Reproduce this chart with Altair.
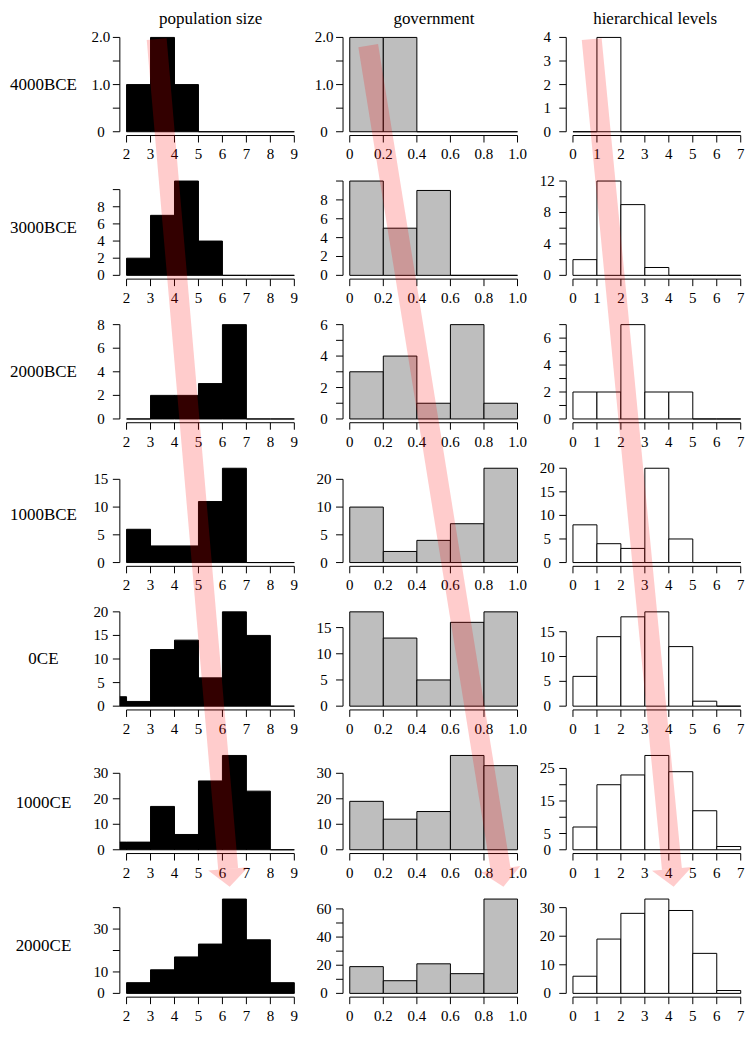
import math
import altair as alt
import pandas as pd

# ---------------- data ----------------
row_names = ["4000BCE", "3000BCE", "2000BCE", "1000BCE", "0CE", "1000CE", "2000CE"]
col_names = ["population size", "government", "hierarchical levels"]

pop_edges = [1, 2, 3, 4, 5, 6, 7, 8, 9]
pop_counts = [
    [None, 1, 2, 1, 0, 0, 0, 0],
    [None, 2, 7, 11, 4, 0, 0, 0],
    [None, 0, 2, 2, 3, 8, 0, 0],
    [None, 6, 3, 3, 11, 17, 0, 0],
    [2, 1, 12, 14, 6, 20, 15, 0],
    [3, 3, 17, 6, 27, 37, 23, 0],
    [None, 5, 11, 17, 23, 44, 25, 5],
]
pop_x_ticks = [2, 3, 4, 5, 6, 7, 8, 9]
pop_x_labels = ["2", "3", "4", "5", "6", "7", "8", "9"]
pop_y_ticks = [[0, 0.5, 1, 1.5, 2], [0, 2, 4, 6, 8, 10], [0, 2, 4, 6, 8], [0, 5, 10, 15],
               [0, 5, 10, 15, 20], [0, 10, 20, 30], [0, 10, 20, 30, 40]]
pop_y_labels = [["0", "", "1.0", "", "2.0"], ["0", "2", "4", "6", "8", ""], ["0", "2", "4", "6", "8"],
                ["0", "5", "10", "15"], ["0", "5", "10", "15", "20"], ["0", "10", "20", "30"],
                ["0", "10", "", "30", ""]]

gov_edges = [0, 0.2, 0.4, 0.6, 0.8, 1.0]
gov_counts = [
    [2, 2, 0, 0, 0],
    [10, 5, 9, 0, 0],
    [3, 4, 1, 6, 1],
    [10, 2, 4, 7, 17],
    [18, 13, 5, 16, 18],
    [19, 12, 15, 37, 33],
    [19, 9, 21, 14, 67],
]
gov_x_ticks = [0, 0.2, 0.4, 0.6, 0.8, 1.0]
gov_x_labels = ["0", "0.2", "0.4", "0.6", "0.8", "1.0"]
gov_y_ticks = [[0, 0.5, 1, 1.5, 2], [0, 2, 4, 6, 8, 10], [0, 1, 2, 3, 4, 5, 6], [0, 5, 10, 15],
               [0, 5, 10, 15], [0, 10, 20, 30], [0, 10, 20, 30, 40, 50, 60]]
gov_y_labels = [["0", "", "1.0", "", "2.0"], ["0", "2", "4", "6", "8", ""], ["0", "", "2", "", "4", "", "6"],
                ["0", "5", "10", "20"], ["0", "5", "10", "15"], ["0", "10", "20", "30"],
                ["0", "", "20", "", "40", "", "60"]]

hier_edges = [0, 1, 2, 3, 4, 5, 6, 7]
hier_counts = [
    [0, 4, 0, 0, 0, 0, 0],
    [2, 12, 9, 1, 0, 0, 0],
    [2, 2, 7, 2, 2, 0, 0],
    [8, 4, 3, 20, 5, 0, 0],
    [6, 14, 18, 19, 12, 1, 0],
    [7, 20, 23, 29, 24, 12, 1],
    [6, 19, 28, 33, 29, 14, 1],
]
hier_x_ticks = [0, 1, 2, 3, 4, 5, 6, 7]
hier_x_labels = ["0", "1", "2", "3", "4", "5", "6", "7"]
hier_y_ticks = [[0, 1, 2, 3, 4], [0, 2, 4, 6, 8, 10, 12], [0, 1, 2, 3, 4, 5, 6, 7], [0, 5, 10, 15, 20],
                [0, 5, 10, 15], [0, 5, 10, 15, 20, 25], [0, 10, 20, 30]]
hier_y_labels = [["0", "1", "2", "3", "4"], ["0", "", "4", "", "8", "", "12"],
                 ["0", "", "2", "", "4", "", "6", ""], ["0", "5", "10", "15", "20"],
                 ["0", "5", "10", "15"], ["0", "5", "", "15", "", "25"], ["0", "10", "20", "30"]]

# arrows (x in data units of each column): start near the top of row 1, tip just above row 7
arrow_x_start = [3.256, 0.110, 0.782]
arrow_x_tip = [6.303, 0.916, 4.20]
arrow_y_start = [5.5, 12.0, 5.5]   # px below the top of the first row
arrow_y_tip = -8.5                 # px relative to the top of the last row

# ---------------- styling / layout ----------------
FONT = "Liberation Serif"
TICK_FS = 15
TEXT_FS = 17
H = 102            # plot height of every panel
PITCH = 143.8      # row pitch
COL_SP = 41.5
ROW_SP = PITCH - H
TICK = 7
PXU = 24.0         # pixels per unit on the 2..9 and 0..7 axes
PXG = 168.0        # pixels per unit on the 0..1 axis
TOP_ANCHOR = -25   # top edge of the figure relative to the first row

columns = [
    dict(edges=pop_edges, counts=pop_counts, xt=pop_x_ticks, xl=pop_x_labels, yt=pop_y_ticks,
         yl=pop_y_labels, x0=1.72, pxu=PXU, width=182, fill="black"),
    dict(edges=gov_edges, counts=gov_counts, xt=gov_x_ticks, xl=gov_x_labels, yt=gov_y_ticks,
         yl=gov_y_labels, x0=-0.04, pxu=PXG, width=182, fill="#BEBEBE"),
    dict(edges=hier_edges, counts=hier_counts, xt=hier_x_ticks, xl=hier_x_labels, yt=hier_y_ticks,
         yl=hier_y_labels, x0=-0.28, pxu=PXU, width=178, fill="white"),
]

ARROW_W = 20
HEAD_LEN = 18
HEAD_W = 40


def panel(ci, ri):
    c = columns[ci]
    edges, counts = c["edges"], c["counts"][ri]
    recs = []
    for i, v in enumerate(counts):
        if v is None:
            continue
        recs.append({"x0": edges[i], "x1": edges[i + 1], "count": v, "base": 0})
    df = pd.DataFrame(recs)
    ymax = max(v for v in counts if v is not None)
    xs = alt.Scale(domain=[c["x0"], c["x0"] + c["width"] / c["pxu"]], nice=False, zero=False)
    ys = alt.Scale(domain=[-0.04 * ymax, 1.04 * ymax], nice=False, zero=False)
    xt, yt = c["xt"], c["yt"][ri]

    bars = alt.Chart(df).mark_rect(fill=c["fill"], stroke="black", strokeWidth=1, clip=True).encode(
        x=alt.X("x0:Q", scale=xs, axis=None),
        x2="x1:Q",
        y=alt.Y("count:Q", scale=ys, axis=None),
        y2="base:Q",
    )
    # R-style axes: line from first to last tick, outward ticks, labels
    axdf = pd.DataFrame({"xlo": [xt[0]], "xhi": [xt[-1]], "ylo": [yt[0]], "yhi": [yt[-1]]})
    xline = alt.Chart(axdf).mark_rule(color="black", strokeWidth=1).encode(
        x=alt.X("xlo:Q", scale=xs, axis=None), x2="xhi:Q", y=alt.value(H))
    yline = alt.Chart(axdf).mark_rule(color="black", strokeWidth=1).encode(
        y=alt.Y("ylo:Q", scale=ys, axis=None), y2="yhi:Q", x=alt.value(0))
    xdf = pd.DataFrame({"v": xt, "lab": c["xl"]})
    ydf = pd.DataFrame({"v": yt, "lab": c["yl"][ri]})
    xticks = alt.Chart(xdf).mark_rule(color="black", strokeWidth=1).encode(
        x=alt.X("v:Q", scale=xs, axis=None), y=alt.value(H), y2=alt.value(H + TICK))
    xlabs = alt.Chart(xdf).mark_text(font=FONT, fontSize=TICK_FS, align="center", baseline="top",
                                     color="black").encode(
        x=alt.X("v:Q", scale=xs, axis=None), y=alt.value(H + 12), text="lab:N")
    yticks = alt.Chart(ydf).mark_rule(color="black", strokeWidth=1).encode(
        y=alt.Y("v:Q", scale=ys, axis=None), x=alt.value(-TICK), x2=alt.value(0))
    ylabs = alt.Chart(ydf).mark_text(font=FONT, fontSize=TICK_FS, align="center", baseline="middle",
                                     color="black").encode(
        y=alt.Y("v:Q", scale=ys, axis=None), x=alt.value(-19), text="lab:N")
    layers = [bars, xline, yline, xticks, xlabs, yticks, ylabs]

    if ci == 0:
        ldf = pd.DataFrame({"label": [row_names[ri]]})
        layers.append(alt.Chart(ldf).mark_text(font=FONT, fontSize=TEXT_FS, align="center",
                                               baseline="middle", color="black").encode(
            x=alt.value(-76.5), y=alt.value(H / 2), text="label:N"))
    if ri == 0:
        tdf = pd.DataFrame({"title": [col_names[ci]]})
        layers.append(alt.Chart(tdf).mark_text(font=FONT, fontSize=TEXT_FS, align="center",
                                               baseline="alphabetic", color="black").encode(
            x=alt.value(c["width"] / 2), y=alt.value(-9.5), text="title:N"))
        if ci == 0:
            # invisible layout anchor fixing the top edge of the figure
            layers.append(alt.Chart(tdf).mark_rule(opacity=0, strokeWidth=1).encode(
                x=alt.value(0), x2=alt.value(0), y=alt.value(TOP_ANCHOR + 0.5),
                y2=alt.value(TOP_ANCHOR + 0.5)))
    if ri == 6:
        sx = (arrow_x_start[ci] - c["x0"]) * c["pxu"]
        tx = (arrow_x_tip[ci] - c["x0"]) * c["pxu"]
        sy = arrow_y_start[ci] - 6 * PITCH
        ty = arrow_y_tip
        dx, dy = tx - sx, ty - sy
        L = math.hypot(dx, dy)
        ux, uy = dx / L, dy / L
        bx, by = tx - HEAD_LEN * ux, ty - HEAD_LEN * uy
        hx, hy = tx - HEAD_LEN / 2 * ux, ty - HEAD_LEN / 2 * uy
        ang = (360 - math.degrees(math.atan2(dx, dy))) % 360
        adf = pd.DataFrame({"arrow": [col_names[ci]]})
        shaft = alt.Chart(adf).mark_rule(color="red", opacity=0.2, strokeWidth=ARROW_W,
                                         strokeCap="butt").encode(
            x=alt.value(sx), y=alt.value(sy), x2=alt.value(bx), y2=alt.value(by))
        half = HEAD_LEN / HEAD_W
        head = alt.Chart(adf).mark_point(
            shape=f"M-1,{-half:.3f}L1,{-half:.3f}L0,{half:.3f}Z", size=HEAD_W ** 2,
            filled=True, color="red", opacity=0.2, strokeWidth=0, angle=ang).encode(
            x=alt.value(hx), y=alt.value(hy))
        layers += [shaft, head]

    return alt.layer(*layers).properties(width=c["width"], height=H)


panels = [panel(ci, ri) for ri in range(7) for ci in range(3)]

chart = alt.concat(
    *panels, columns=3, spacing={"row": ROW_SP, "column": COL_SP}, bounds="flush"
).properties(
    padding={"top": 0, "left": 1, "right": 1, "bottom": 1}, background="white"
).configure_view(
    stroke=None
)

chart.save("out.html", embed_options={"renderer": "svg", "actions": False})
